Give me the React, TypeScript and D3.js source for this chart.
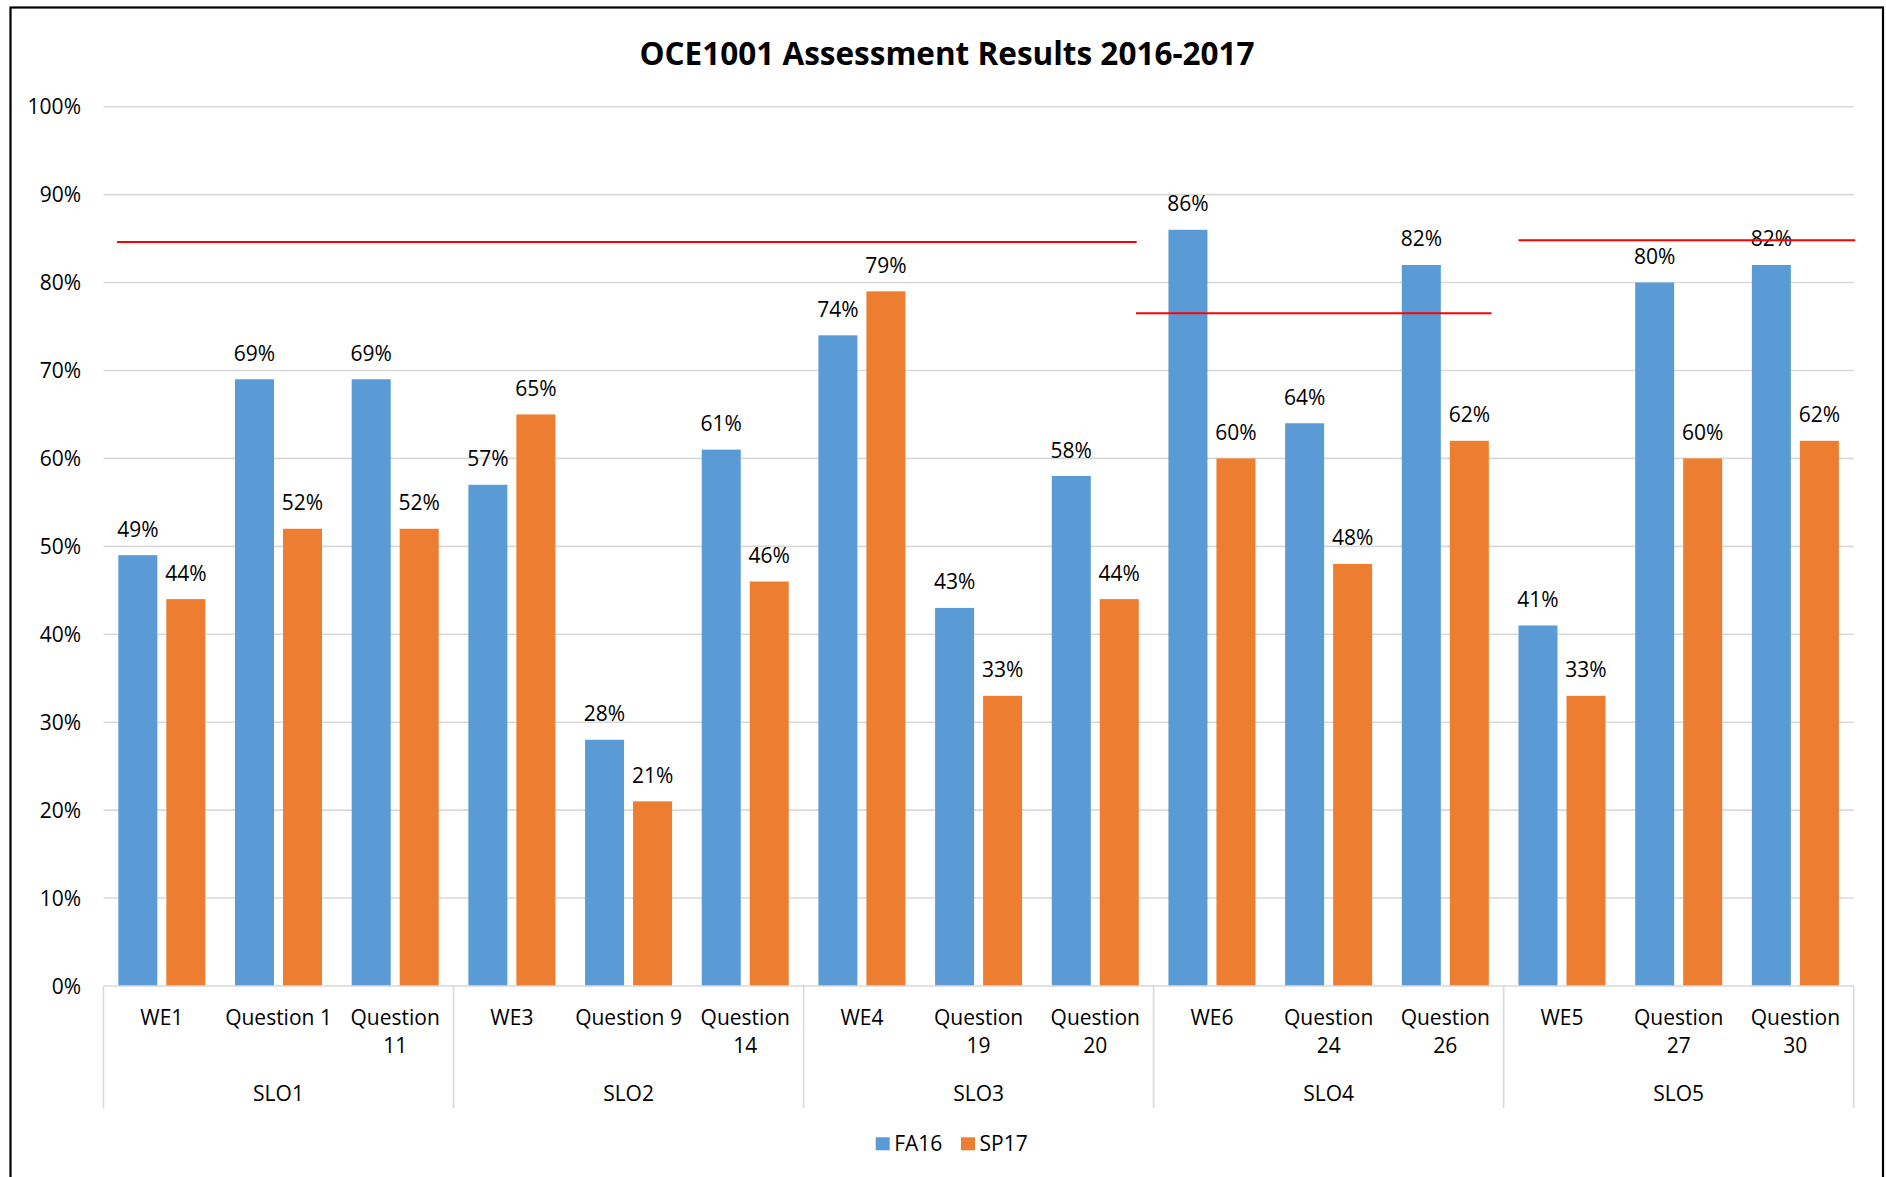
import React from "react";
import * as d3 from "d3";

const categories = [
  "WE1", "Question 1", "Question 11",
  "WE3", "Question 9", "Question 14",
  "WE4", "Question 19", "Question 20",
  "WE6", "Question 24", "Question 26",
  "WE5", "Question 27", "Question 30",
];
const groups = ["SLO1", "SLO2", "SLO3", "SLO4", "SLO5"];
const seriesNames = ["FA16", "SP17"];
const fa16 = [0.49, 0.69, 0.69, 0.57, 0.28, 0.61, 0.74, 0.43, 0.58, 0.86, 0.64, 0.82, 0.41, 0.80, 0.82];
const sp17 = [0.44, 0.52, 0.52, 0.65, 0.21, 0.46, 0.79, 0.33, 0.44, 0.60, 0.48, 0.62, 0.33, 0.60, 0.62];
const yTicks = [0, 0.1, 0.2, 0.3, 0.4, 0.5, 0.6, 0.7, 0.8, 0.9, 1.0];
// target lines: span in category-index units, value
const targetStart = [0.116, 8.849, 12.127];
const targetEnd = [8.855, 11.896, 15.013];
const targetValue = [0.846, 0.765, 0.848];

const colors = ["#5B9BD5", "#ED7D31"];
const W = 1886;
const H = 1177;
const FONT = "'Open Sans', sans-serif";

export default function App() {
  const plotLeft = 103.5;
  const plotRight = 1853.7;
  const y0 = 986;
  const y100 = 106.7;

  const x0 = d3.scaleBand<string>().domain(categories).range([plotLeft, plotRight]).padding(0);
  const x1 = d3
    .scaleBand<string>()
    .domain(seriesNames)
    .range([0, x0.bandwidth()])
    .paddingInner(0.1875)
    .paddingOuter(0.309);
  const xi = d3.scaleLinear().domain([0, categories.length]).range([plotLeft, plotRight]);
  const y = d3.scaleLinear().domain([0, 1]).range([y0, y100]);
  const pct = d3.format(".0%");
  const values = [fa16, sp17];
  const perGroup = categories.length / groups.length;

  const splitLabel = (s: string) => {
    if (s.length > 10 && s.includes(" ")) {
      const i = s.lastIndexOf(" ");
      return [s.slice(0, i), s.slice(i + 1)];
    }
    return [s];
  };

  return (
    <div style={{ position: "absolute", left: 0, top: 0 }}>
      <svg width={W} height={H} style={{ display: "block" }} fontFamily={FONT}>
        <rect x={0} y={0} width={W} height={H} fill="#fff" />
        <rect x={10.5} y={7.5} width={1872.5} height={H + 20} fill="none" stroke="#000" strokeWidth={2.2} />
        <text x={947} y={65} textAnchor="middle" fontSize={31.5} fontWeight={700} fill="#000">
          OCE1001 Assessment Results 2016-2017
        </text>

        {yTicks.map((t) => (
          <g key={t}>
            {t > 0 && (
              <line x1={plotLeft} x2={plotRight} y1={y(t)} y2={y(t)} stroke="#D9D9D9" strokeWidth={1.6} />
            )}
            <text x={81} y={y(t) + 7.5} textAnchor="end" fontSize={21} fill="#000">
              {pct(t)}
            </text>
          </g>
        ))}

        {categories.map((c, i) =>
          values.map((vals, s) => {
            const v = vals[i];
            const bx = (x0(c) as number) + (x1(seriesNames[s]) as number);
            const bw = x1.bandwidth();
            return (
              <g key={c + s}>
                <rect x={bx} y={y(v)} width={bw} height={y(0) - y(v)} fill={colors[s]} />
                <text x={bx + bw / 2} y={y(v) - 18.5} textAnchor="middle" fontSize={21} fill="#000">
                  {pct(v)}
                </text>
              </g>
            );
          })
        )}

        {targetValue.map((v, i) => (
          <line
            key={"t" + i}
            x1={xi(targetStart[i])}
            x2={xi(targetEnd[i])}
            y1={y(v)}
            y2={y(v)}
            stroke="#FF0000"
            strokeWidth={2}
          />
        ))}

        <line x1={plotLeft} x2={plotRight} y1={y0} y2={y0} stroke="#D9D9D9" strokeWidth={1.6} />
        {d3.range(groups.length + 1).map((k) => (
          <line
            key={"sep" + k}
            x1={xi(k * perGroup)}
            x2={xi(k * perGroup)}
            y1={y0}
            y2={1108}
            stroke="#D9D9D9"
            strokeWidth={1.6}
          />
        ))}

        {categories.map((c) => {
          const cx = (x0(c) as number) + x0.bandwidth() / 2;
          return splitLabel(c).map((line, li) => (
            <text key={c + li} x={cx} y={1025 + li * 28} textAnchor="middle" fontSize={21} fill="#000">
              {line}
            </text>
          ));
        })}

        {groups.map((g, k) => (
          <text
            key={g}
            x={xi(k * perGroup + perGroup / 2)}
            y={1100.7}
            textAnchor="middle"
            fontSize={21}
            fill="#000"
          >
            {g}
          </text>
        ))}

        {seriesNames.map((n, s) => {
          const lx = [875.7, 961][s];
          return (
            <g key={n}>
              <rect x={lx} y={1137.3} width={14} height={13} fill={colors[s]} />
              <text x={lx + 18.5} y={1150.7} fontSize={21} fill="#000">
                {n}
              </text>
            </g>
          );
        })}
      </svg>
    </div>
  );
}
